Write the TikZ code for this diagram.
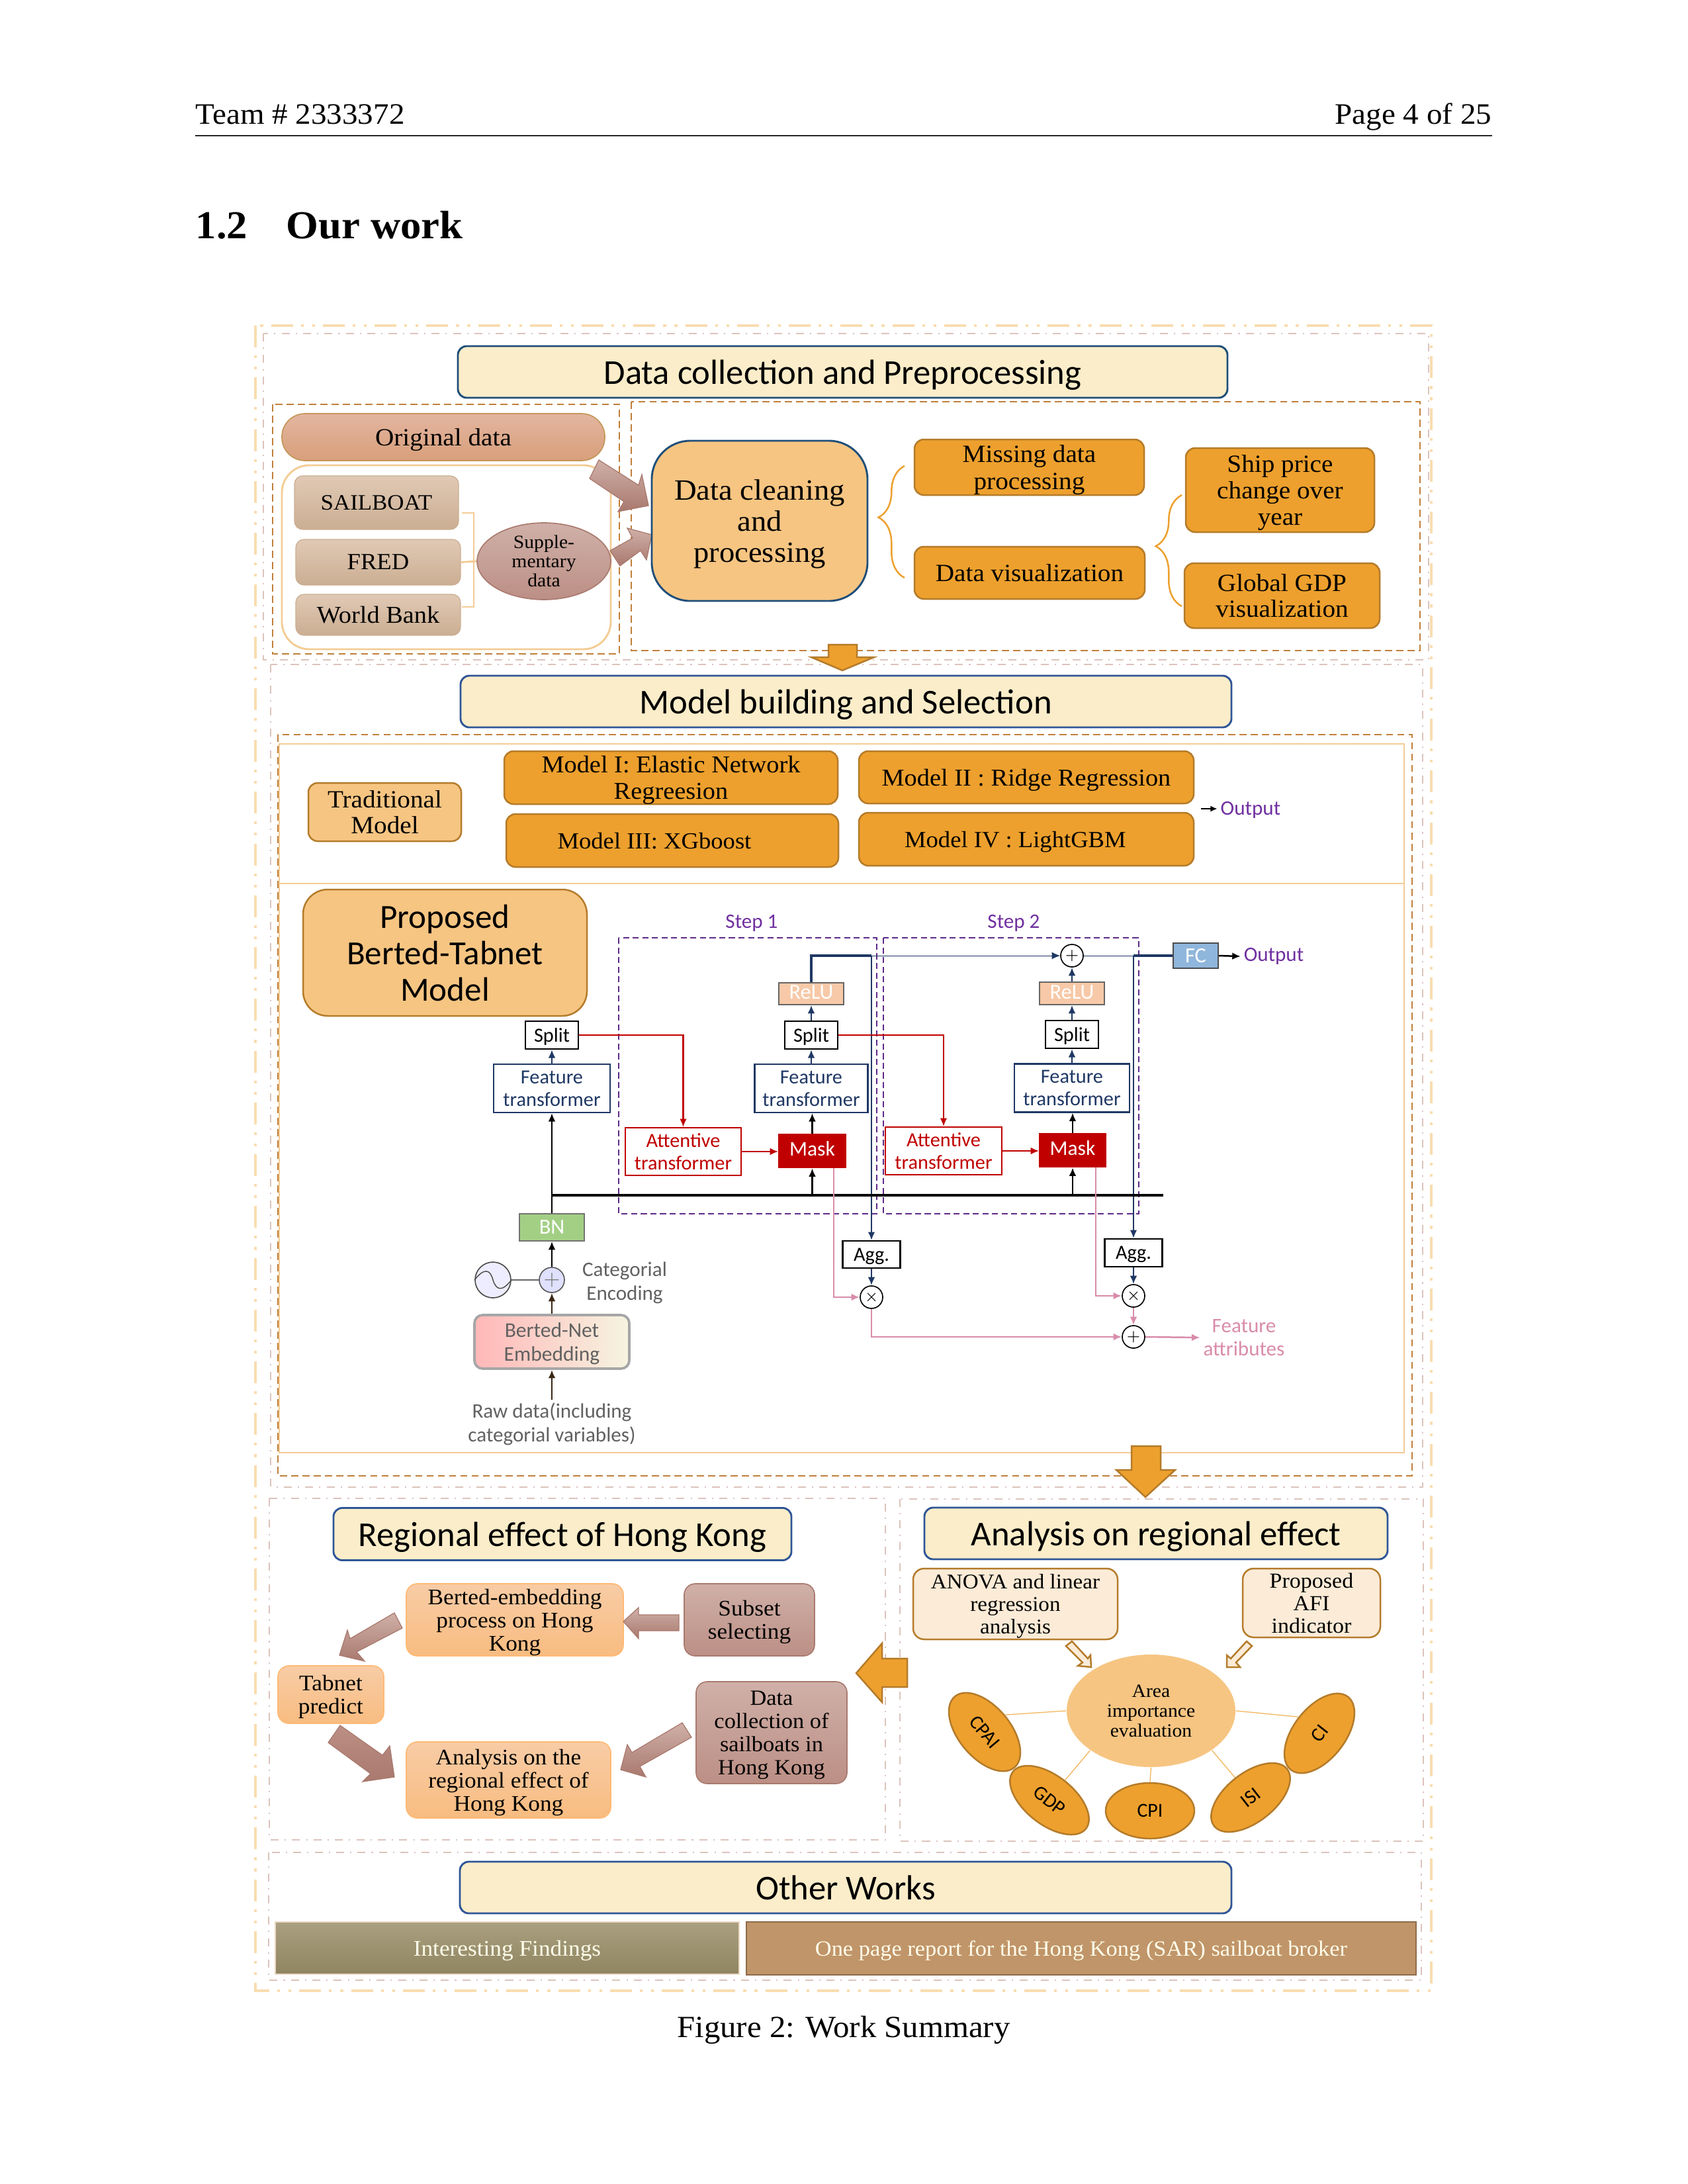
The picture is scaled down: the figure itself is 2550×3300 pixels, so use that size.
\documentclass[tikz,border=0pt]{standalone}
\usepackage{fontspec}
\setmainfont[FakeStretch=1.05]{Liberation Serif}
\newfontfamily\gillfont{Carlito}
\usetikzlibrary{shapes.geometric,arrows.meta,decorations.pathreplacing}

\definecolor{outerdash}{HTML}{F9DDB0}
\definecolor{pinkdash}{HTML}{DCC3BC}
\definecolor{orangedash}{HTML}{C07F3A}
\definecolor{peachline}{HTML}{F3CC94}
\definecolor{titlefill}{HTML}{FBEDC9}
\definecolor{navyline}{HTML}{1F4E79}
\definecolor{blueline}{HTML}{2F5597}
\definecolor{amber}{HTML}{EDA02D}
\definecolor{amberline}{HTML}{B47B2A}
\definecolor{sand}{HTML}{F6C582}
\definecolor{stepblue}{HTML}{1F3864}
\definecolor{stepred}{HTML}{C00000}
\definecolor{steppurple}{HTML}{7030A0}
\definecolor{steppink}{HTML}{D98CAA}
\definecolor{mauveA}{HTML}{CFB0A8}
\definecolor{mauveB}{HTML}{BC8F85}
\definecolor{mauveC}{HTML}{A9796E}
\definecolor{tanA}{HTML}{E0C9B5}
\definecolor{tanB}{HTML}{CBAE92}
\definecolor{origA}{HTML}{E3B5A0}
\definecolor{origB}{HTML}{D89F7A}
\definecolor{peachA}{HTML}{F8CCA6}
\definecolor{peachB}{HTML}{F8BC80}
\definecolor{creamfill}{HTML}{FBEBD7}
\definecolor{olivA}{HTML}{AAA080}
\definecolor{olivB}{HTML}{8F8560}
\definecolor{clayfill}{HTML}{C09569}
\definecolor{clayline}{HTML}{8D6B4A}
\definecolor{relufill}{HTML}{F7C9A8}
\definecolor{fcfill}{HTML}{8FB6DC}
\definecolor{bnfill}{HTML}{A3CF85}

\newcommand{\fsz}[2]{\fontsize{#1}{#2}\selectfont}

\tikzset{
  wh/.style 2 args={minimum width=#1*0.24bp,minimum height=#2*0.24bp,inner sep=0pt,align=center,text depth=0pt},
  outerframe/.style={draw=outerdash,line width=1pt,dash pattern=on 7.95pt off 2.9pt on 1pt off 3.1pt on 1pt off 2.9pt},
  pinkframe/.style={draw=pinkdash,line width=0.7pt,dash pattern=on 2.9pt off 2.2pt on 0.5pt off 2.2pt},
  orangeframe/.style={draw=orangedash,line width=0.7pt,dash pattern=on 2.6pt off 1.5pt},
  titlebar/.style={draw=blueline,line width=0.7pt,fill=titlefill,rounded corners=3.2pt,font=\gillfont\fsz{12.7}{15}},
  amberbox/.style={draw=amberline,line width=0.6pt,fill=amber,rounded corners=3.4pt,font=\fsz{8.8}{9.6}},
  sandbox/.style={draw=amberline,line width=0.6pt,fill=sand,rounded corners=3.4pt},
  tanbox/.style={draw=tanB,line width=0.3pt,top color=tanA,bottom color=tanB,rounded corners=3pt,font=\fsz{8.8}{9.6}},
  peachbox/.style={draw=orange!55,line width=0.4pt,top color=peachA,bottom color=peachB,rounded corners=4pt,font=\fsz{8.1}{8.4}},
  mauvebox/.style={draw=mauveC,line width=0.4pt,top color=mauveA,bottom color=mauveB,rounded corners=4pt,font=\fsz{8.1}{8.4}},
  creambox/.style={draw=amberline,line width=0.6pt,fill=creamfill,rounded corners=4pt,font=\fsz{7.8}{8.2}},
  blockarrow/.style={draw=mauveC,line width=0.3pt,top color=mauveA,bottom color=mauveC},
  amberarrow/.style={draw=amberline,line width=0.6pt,fill=amber},
  creamarrow/.style={draw=amberline,line width=0.6pt,fill=creamfill},
  netbox/.style={draw=#1,line width=0.5pt,fill=white,text=#1,font=\gillfont\fsz{7.3}{8.2}},
  netarrow/.style={draw=#1,line width=0.6pt,-{Latex[length=3pt,width=2.6pt]}},
  opcircle/.style={circle,draw=black,line width=0.4pt,fill=white,inner sep=0pt,minimum size=34*0.24bp,font=\fsz{5.5}{6}},
  steplabel/.style={text=steppurple,font=\gillfont\fsz{7.5}{9}},
  oval/.style={ellipse,draw=amberline,line width=0.6pt,fill=amber,inner sep=0pt,font=\gillfont\fsz{7.2}{8}},
  ovallink/.style={draw=amber!80!white,line width=0.3pt}
}

\begin{document}
\begin{tikzpicture}[x=0.24bp,y=-0.24bp]

   \useasboundingbox (0,0) rectangle (2550,3300);

   \node[anchor=base west,inner sep=0pt,font=\fsz{10.8}{13}] (team) at (295,187) {Team \# 2333372};
   \node[anchor=base east,inner sep=0pt,font=\fsz{10.8}{13}] (pagenum) at (2255,187) {Page 4 of 25};
   \coordinate (ruleL) at (295,205);
   \coordinate (ruleR) at (2255,205);
   \draw[line width=0.4pt,black!85] (ruleL) -- (ruleR);
   \node[anchor=base west,inner sep=0pt,font=\bfseries\fsz{14.4}{17}] (secnum) at (295,360) {1.2};
   \node[anchor=base west,inner sep=0pt,font=\bfseries\fsz{14.4}{17}] (sectitle) at (432,360) {Our work};
   \node[anchor=base,inner sep=0pt,font=\fsz{11.2}{13}] (caption) at (1275,3078) {Figure 2: Work Summary};

   \draw[outerframe] (386,492) rectangle (2163,3008);
   \draw[pinkframe] (398,504) rectangle (2159,997);
   \draw[pinkframe] (409,1004) rectangle (2150,2247);
   \draw[pinkframe] (407,2264) rectangle (1338,2780);
   \draw[pinkframe] (1360,2265) rectangle (2151,2782);
   \draw[pinkframe] (406,2799) rectangle (2148,2992);
   \draw[orangeframe] (412,611) rectangle (936,988);
   \draw[orangeframe] (954,607) rectangle (2146,983);
   \draw[orangeframe] (420,1110) rectangle (2134,2230);
   \draw[peachline,line width=0.7pt] (422,1124) rectangle (2122,1335);
   \draw[peachline,line width=0.7pt] (422,1335) rectangle (2122,2195);

   \node[titlebar,wh={1163}{78},draw=navyline] (titleData) at (1273.5,562) {Data collection and Preprocessing};
   \node[titlebar,wh={1165}{78}] (titleModel) at (1278.5,1060) {Model building and Selection};
   \node[titlebar,wh={692}{79}] (titleRegion) at (850,2318) {Regional effect of Hong Kong};
   \node[titlebar,wh={700}{78}] (titleAnalysis) at (1747,2317) {Analysis on regional effect};
   \node[titlebar,wh={1166}{78}] (titleOther) at (1278,2852) {Other Works};

   \draw[peachline,line width=0.7pt,rounded corners=10pt] (426,703) rectangle (923,981);
   \node[wh={488}{71},draw=amberline!80,line width=0.4pt,top color=origA,bottom color=origB,rounded corners=8.4pt,font=\fsz{9}{9.6}] (orig) at (670,660.5) {Original data};
   \node[tanbox,wh={248}{81},font=\fsz{8}{9.6}] (sailboat) at (569,759.5) {SAILBOAT};
   \node[tanbox,wh={249}{69},font=\fsz{8.4}{9.6}] (fred) at (571.5,849.5) {FRED};
   \node[tanbox,wh={249}{62}] (worldbank) at (571.5,929) {World Bank};
   \node[ellipse,wh={202}{116},draw=mauveC,line width=0.4pt,top color=mauveA,bottom color=mauveB,font=\fsz{6.8}{7}] (supple) at (822,848) {Supple-\\mentary\\data};
   \coordinate (brkA) at (698,775);
   \coordinate (brkM) at (716,850);
   \coordinate (brkB) at (698,917);
   \draw[peachline,line width=0.4pt] (brkA) -| (brkM) |- (brkB);
   \draw[peachline,line width=0.7pt] (fred.east) -- (supple.west);

   \draw[blockarrow] (905,695) -- (965,733) -- (970,717) -- (980,764) -- (934,773) -- (943,758) -- (891,723) -- cycle;
   \draw[blockarrow] (922,832) -- (956,813) -- (948,798) -- (985,808) -- (977,846) -- (968,832) -- (937,855) -- cycle;

   \node[wh={326}{242},draw=navyline,line width=0.7pt,fill=sand,rounded corners=14pt,font=\fsz{10.7}{11.4}] (clean) at (1148,787) {Data cleaning\\and\\processing};
   \node[amberbox,wh={347}{84},font=\fsz{9}{10}] (missing) at (1555.5,706) {Missing data\\processing};
   \node[amberbox,wh={348}{79},font=\fsz{9}{9.6}] (dataviz) at (1556,865.5) {Data visualization};
   \node[amberbox,wh={285}{127},font=\fsz{9}{9.6}] (shipprice) at (1934.5,740.5) {Ship price\\change over\\year};
   \node[amberbox,wh={295}{98},font=\fsz{9}{9.6}] (gdpviz) at (1937.5,900) {Global GDP\\visualization};
   \coordinate (braceAb) at (1367,873);
   \coordinate (braceAt) at (1367,704);
   \coordinate (braceBb) at (1786,916);
   \coordinate (braceBt) at (1786,748);
   \draw[amber,line width=0.6pt,decorate,decoration={brace,amplitude=9.5pt,aspect=0.54}] (braceAb) -- (braceAt);
   \draw[amber,line width=0.6pt,decorate,decoration={brace,amplitude=9.5pt,aspect=0.54}] (braceBb) -- (braceBt);
   \draw[amberarrow] (1252,974) -- (1295,974) -- (1295,993) -- (1321,993) -- (1273,1013) -- (1226,993) -- (1252,993) -- cycle;

   \node[sandbox,wh={231}{88},font=\fsz{9}{9.4}] (trad) at (581.5,1227) {Traditional\\Model};
   \node[amberbox,wh={504}{80}] (modelA) at (1014,1175) {Model I: Elastic Network\\Regreesion};
   \node[amberbox,wh={506}{79}] (modelB) at (1551,1174.5) {Model II : Ridge Regression};
   \node[amberbox,wh={502}{80},font=\fsz{8.4}{9.6}] (modelC) at (1016,1270) {Model III: XGboost\hspace{13pt}};
   \node[amberbox,wh={506}{80},font=\fsz{8.4}{9.6}] (modelD) at (1551,1268) {Model IV : LightGBM\hspace{8pt}};
   \coordinate (outS) at (1815,1222);
   \node[steplabel,inner sep=1pt] (outtxtA) at (1890,1224) {Output};
   \draw[black,line width=0.5pt,-{Latex[length=2.5pt,width=2.2pt]}] (outS) -- (outS -| outtxtA.west);

   \node[sandbox,wh={429}{191},rounded corners=9pt,font=\gillfont\fsz{12.3}{13.3}] (proposed) at (672.5,1439.5) {Proposed\\Berted-Tabnet\\Model};

   \node[steplabel] (stepA) at (1136,1395) {Step 1};
   \node[steplabel] (stepB) at (1532,1395) {Step 2};
   \draw[steppurple!85!black,line width=0.5pt,dash pattern=on 2.2pt off 1.3pt] (935,1417) rectangle (1325,1834);
   \draw[steppurple!85!black,line width=0.5pt,dash pattern=on 2.2pt off 1.3pt] (1335,1417) rectangle (1721,1834);

   \node[wh={68}{38},draw=black!70,line width=0.5pt,fill=fcfill,text=white,font=\gillfont\fsz{7.8}{9}] (fc) at (1807,1444) {FC};
   \node[steplabel,inner sep=1pt] (outtxtB) at (1925,1445) {Output};
   \node[opcircle] (plusT) at (1620,1444) {$+$};
   \node[wh={98}{33},text depth=1pt,draw=black!60,line width=0.4pt,fill=relufill,text=white,font=\gillfont\fsz{7.8}{9}] (reluA) at (1226,1501.5) {ReLU};
   \node[wh={98}{34},text depth=1pt,draw=black!60,line width=0.4pt,fill=relufill,text=white,font=\gillfont\fsz{7.8}{9}] (reluB) at (1620,1501) {ReLU};
   \node[netbox=black,wh={80}{42}] (splitO) at (834,1564) {Split};
   \node[netbox=black,wh={80}{42}] (splitA) at (1226,1564) {Split};
   \node[netbox=black,wh={80}{42}] (splitB) at (1620,1563) {Split};
   \node[netbox=stepblue,wh={176}{73}] (ftO) at (834,1644.5) {Feature\\transformer};
   \node[netbox=stepblue,wh={171}{73}] (ftA) at (1226,1644.5) {Feature\\transformer};
   \node[netbox=stepblue,wh={174}{73}] (ftB) at (1620,1644) {Feature\\transformer};
   \node[netbox=stepred,wh={175}{72}] (atA) at (1032.5,1740) {Attentive\\transformer};
   \node[netbox=stepred,wh={176}{72}] (atB) at (1426,1739) {Attentive\\transformer};
   \node[wh={101}{51},text depth=1.6pt,draw=stepred,fill=stepred,text=white,font=\gillfont\fsz{7.6}{9}] (maskA) at (1227.5,1739) {Mask};
   \node[wh={100}{51},text depth=1.6pt,draw=stepred,fill=stepred,text=white,font=\gillfont\fsz{7.6}{9}] (maskB) at (1621,1738) {Mask};
   \node[wh={98}{41},draw=black!55,line width=0.4pt,fill=bnfill,text=white,font=\gillfont\fsz{7.8}{9}] (bn) at (834,1854.5) {BN};
   \node[opcircle,minimum size=38*0.24bp,fill=blue!12!white,draw=black!65,font=\fsz{7}{7}] (plusB) at (834,1934) {\color{black!50}$+$};
   \node[circle,draw=black!70,line width=0.4pt,fill=blue!7!white,inner sep=0pt,minimum size=54*0.24bp] (sine) at (745,1934) {};
   \draw[black!70,line width=0.35pt] (sine.west) .. controls (732,1915) and (741,1918) .. (745,1934) .. controls (750,1950) and (759,1952) .. (sine.east);
   \node[align=center,text=black!62,font=\gillfont\fsz{7.5}{8.6}] (catenc) at (944,1938) {Categorial\\Encoding};
   \node[wh={234}{81},draw=black!35,line width=0.9pt,left color=red!28!white,right color=green!30!orange!12!white,rounded corners=3pt,text=black!62,font=\gillfont\fsz{7.6}{8.8}] (embed) at (834,2027.5) {Berted-Net\\Embedding};
   \node[align=center,inner sep=1pt,text=black!62,font=\gillfont\fsz{7.5}{8.8}] (rawdata) at (834,2152) {Raw data(including\\categorial variables)};
   \node[netbox=black,wh={87}{41}] (aggA) at (1317,1895.5) {Agg.};
   \node[netbox=black,wh={87}{42}] (aggB) at (1713,1893) {Agg.};
   \node[opcircle] (timesA) at (1317,1960) {$\times$};
   \node[opcircle] (timesB) at (1713,1958) {$\times$};
   \node[opcircle] (plusC) at (1713,2020) {$+$};
   \node[align=center,inner sep=1pt,text=steppink,font=\gillfont\fsz{7.5}{8.4}] (attrs) at (1880,2021) {Feature\\attributes};

   \coordinate (junA) at (1317,1444);
   \coordinate (junB) at (1713,1444);
   \coordinate (busL) at (834,1806);
   \coordinate (busR) at (1758,1806);
   \coordinate (pinkA) at (1260,1765);
   \coordinate (pinkB) at (1656,1764);

   \draw[netarrow=black] (fc.east) -- (outtxtB.west);
   \draw[stepblue,line width=0.8pt] (reluA.north) |- (junA);
   \draw[netarrow=stepblue,line width=0.7pt] (junA) -- (aggA.north);
   \draw[netarrow=stepblue,line width=0.25pt] (junA) -- (plusT.west);
   \draw[stepblue,line width=0.25pt] (plusT.east) -- (junB);
   \draw[stepblue,line width=0.8pt] (junB) -- (fc.west);
   \draw[netarrow=stepblue,line width=0.7pt] (junB) -- (aggB.north);
   \draw[netarrow=stepblue] (reluB.north) -- (plusT.south);
   \draw[netarrow=stepblue] (splitA.north) -- (reluA.south);
   \draw[netarrow=stepblue] (splitB.north) -- (reluB.south);
   \draw[netarrow=stepblue] (ftO.north) -- (splitO.south);
   \draw[netarrow=stepblue] (ftA.north) -- (splitA.south);
   \draw[netarrow=stepblue] (ftB.north) -- (splitB.south);
   \draw[netarrow=stepred,line width=0.7pt] (splitO.east) -| (atA.north);
   \draw[netarrow=stepred,line width=0.7pt] (splitA.east) -| (atB.north);
   \draw[netarrow=stepred,line width=0.7pt] (atA.east) -- (atA.east -| maskA.west);
   \draw[netarrow=stepred,line width=0.7pt] (atB.east) -- (atB.east -| maskB.west);
   \draw[netarrow=black] (maskA.north) -- (maskA.north |- ftA.south);
   \draw[netarrow=black] (maskB.north) -- (maskB.north |- ftB.south);
   \draw[black,line width=0.9pt] (busL) -- (busR);
   \draw[netarrow=black] (maskA.south |- busL) -- (maskA.south);
   \draw[netarrow=black] (maskB.south |- busL) -- (maskB.south);
   \draw[netarrow=black] (bn.north) -- (ftO.south);
   \draw[netarrow=black] (plusB.north) -- (bn.south);
   \draw[black!60,line width=0.4pt] (sine.east) -- (plusB.west);
   \draw[netarrow=black!70!brown] (embed.north) -- (plusB.south);
   \draw[netarrow=black!70!brown] (rawdata.north) -- (embed.south);
   \draw[netarrow=stepblue] (aggA.south) -- (timesA.north);
   \draw[netarrow=stepblue] (aggB.south) -- (timesB.north);
   \draw[netarrow=steppink] (pinkA) |- (timesA.west);
   \draw[netarrow=steppink] (pinkB) |- (timesB.west);
   \draw[netarrow=steppink] (timesA.south) |- (plusC.west);
   \draw[netarrow=steppink] (timesB.south) -- (plusC.north);
   \draw[netarrow=steppink] (plusC.east) -- (attrs.west);

   \draw[amberarrow] (1710,2185) -- (1754,2185) -- (1754,2221) -- (1776,2221) -- (1731,2262) -- (1687,2221) -- (1710,2221) -- cycle;

   \node[peachbox,wh={328}{109}] (bertproc) at (778,2447.5) {Berted-embedding\\process on Hong\\Kong};
   \node[mauvebox,wh={197}{109}] (subset) at (1132.5,2447.5) {Subset\\selecting};
   \node[peachbox,wh={160}{87}] (tabnet) at (500,2560.5) {Tabnet\\predict};
   \node[peachbox,wh={309}{115}] (regional) at (768.5,2689.5) {Analysis on the\\regional effect of\\Hong Kong};
   \node[mauvebox,wh={228}{154},font=\fsz{7.9}{8.4}] (sailcoll) at (1166,2618) {Data\\collection of\\sailboats in\\Hong Kong};
   \draw[blockarrow] (942,2450) -- (965,2429) -- (965,2440) -- (1026,2440) -- (1026,2464) -- (965,2464) -- (965,2476) -- cycle;
   \draw[blockarrow] (596,2437) -- (608,2460) -- (539,2496) -- (551,2510) -- (513,2501) -- (525,2463) -- (529,2476) -- cycle;
   \draw[blockarrow,top color=mauveB,bottom color=mauveC] (514,2607) -- (578,2652) -- (589,2638) -- (596,2685) -- (548,2692) -- (560,2680) -- (496,2633) -- cycle;
   \draw[blockarrow] (1031,2603) -- (1045,2625) -- (967,2669) -- (976,2685) -- (938,2674) -- (948,2636) -- (955,2648) -- cycle;
   \draw[amberarrow] (1294,2528) -- (1333,2483) -- (1333,2506) -- (1371,2506) -- (1371,2549) -- (1333,2549) -- (1333,2572) -- cycle;

   \node[creambox,wh={309}{107},font=\fsz{7.6}{8.2}] (anova) at (1534.5,2423.5) {ANOVA and linear\\regression\\analysis};
   \node[creambox,wh={208}{104}] (afi) at (1982,2422) {Proposed\\AFI\\indicator};
   \draw[creamarrow] (1620,2480) -- (1644,2506) -- (1648,2501) -- (1649,2519) -- (1629,2517) -- (1636,2512) -- (1611,2487) -- cycle;
   \draw[creamarrow] (1884,2480) -- (1860,2506) -- (1854,2501) -- (1854,2519) -- (1874,2519) -- (1868,2512) -- (1892,2487) -- cycle;
   \node[ellipse,wh={255}{170},fill=sand,font=\fsz{6.8}{7.2}] (area) at (1739.5,2585) {Area\\importance\\evaluation};
   \node[oval,wh={140}{78},rotate=-50] (cpai) at (1488,2617) {CPAI};
   \node[oval,wh={140}{74},rotate=-38] (gdp) at (1586,2720) {GDP};
   \node[oval,wh={134}{84}] (cpi) at (1738,2736) {CPI};
   \node[oval,wh={140}{74},rotate=38] (isi) at (1890,2716) {ISI};
   \node[oval,wh={140}{78},rotate=52] (ci) at (1994,2619) {CI};
   \draw[ovallink] (area.west) -- (cpai.north);
   \draw[ovallink] (area.213) -- (gdp.north);
   \draw[ovallink] (area.south) -- (cpi.north);
   \draw[ovallink] (area.-33) -- (isi.north);
   \draw[ovallink] (area.east) -- (ci.north);

   \node[wh={701}{79},draw=white!70!brown,line width=0.3pt,top color=olivA,bottom color=olivB,text=white!92!yellow,font=\fsz{8.1}{10}] (findings) at (766.5,2943.5) {Interesting Findings};
   \node[wh={1012}{80},draw=clayline,line width=0.7pt,fill=clayfill,text=white!92!yellow,font=\fsz{7.9}{10}] (report) at (1634,2944) {One page report for the Hong Kong (SAR) sailboat broker};

\end{tikzpicture}
\end{document}
